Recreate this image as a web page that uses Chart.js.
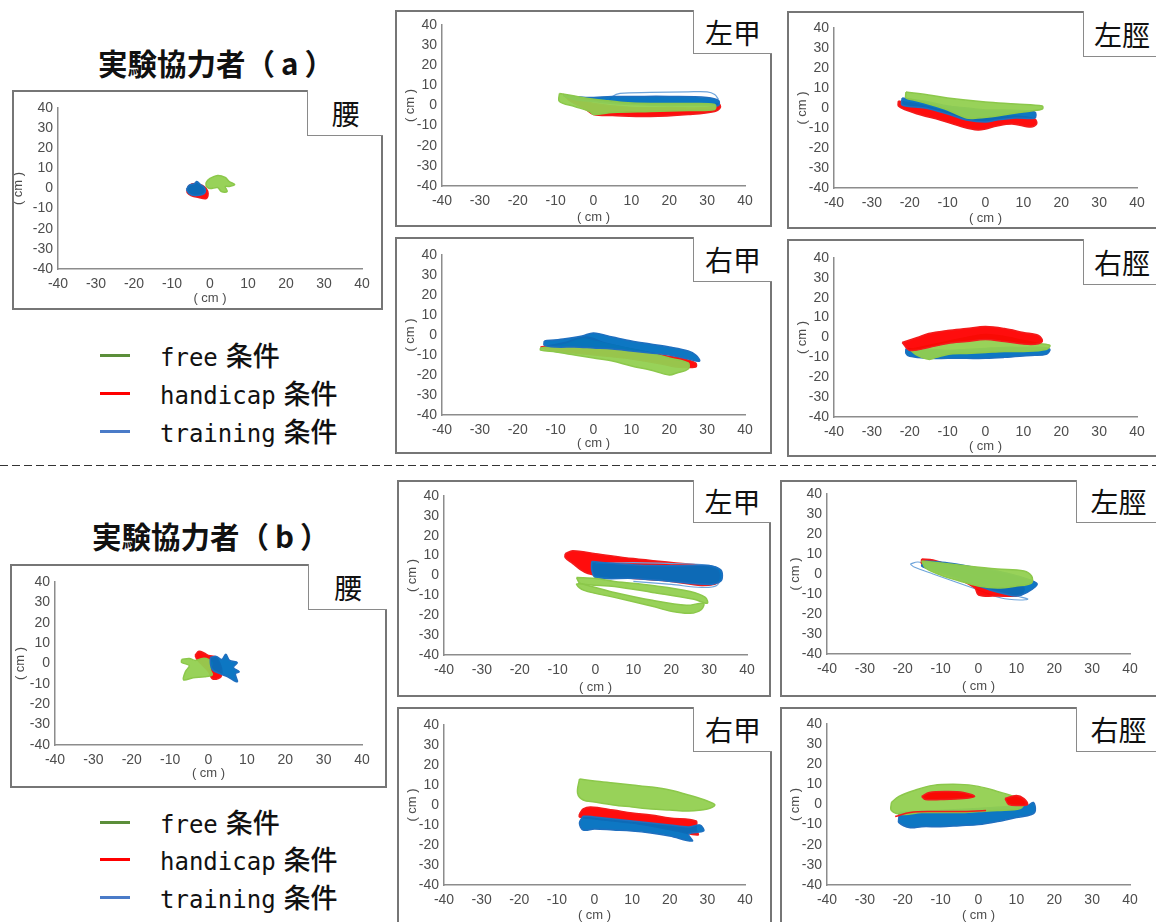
<!DOCTYPE html>
<html lang="ja">
<head>
<meta charset="UTF-8">
<title>実験協力者 軌跡</title>
<script src="https://cdn.jsdelivr.net/npm/chart.js"></script>
<style>
  body { margin:0; width:1156px; height:922px; position:relative; overflow:hidden; background:#fff; font-family:'Noto Sans CJK JP', sans-serif; }
  canvas { position:absolute; z-index:1; }
  .frame { position:absolute; box-sizing:border-box; border:2px solid #767676; z-index:2; pointer-events:none; }
  .part { position:absolute; box-sizing:border-box; border-left:1.5px solid #8a8a8a; border-bottom:1.5px solid #8a8a8a; background:#fff; z-index:3;
          font-size:28px; color:#111; display:flex; align-items:center; justify-content:center; line-height:1; }
  .title { position:absolute; font-weight:700; font-size:29.5px; color:#111; line-height:40px; white-space:nowrap; }
  .title .p { margin:0 6px; }
  .divider { position:absolute; left:0; top:465px; width:1156px; height:1px;
             background:repeating-linear-gradient(to right, #333 0 8px, transparent 8px 12px); }
  .key { position:absolute; left:100px; width:30px; height:3px; }
  .keytext { position:absolute; left:160px; height:36px; line-height:36px; white-space:nowrap; color:#111; }
  .keytext .en { font-family:'DejaVu Sans Mono', monospace; font-size:24px; }
  .keytext .ja { font-family:'Noto Sans CJK JP', sans-serif; font-size:27px; font-weight:500; margin-left:8px; }
</style>
</head>
<body>

<div class="title" style="left:98px; top:42px">実験協力者（<span class="p">a</span>）</div>
<div class="title" style="left:92px; top:515px">実験協力者（<span class="p">b</span>）</div>
<div class="divider"></div>

<script>
// axis ticks (cm)
const axisTicks = [-40, -30, -20, -10, 0, 10, 20, 30, 40];
const conditions = ['free', 'handicap', 'training'];

// ---- 実験協力者 (a) ----
// 腰
const aWaistFree = [[-1,1],[-1,3],[0,5],[2,6.5],[4,5.5],[5,3.5],[6.5,2],[5,1],[4,1],[4.5,-1.5],[3,-1.5],[2,0.5],[0,0]];
const aWaistHandicap = [[-6,-0.5],[-5.5,1.5],[-4,2.5],[-2,1.5],[-1,0],[-0.5,-2.5],[-1,-5],[-3,-4.5],[-5,-3.5],[-6,-2]];
const aWaistTraining = [[-6.2,-0.5],[-5.5,1.5],[-4,2.5],[-3.5,3.5],[-2.5,2],[-1.5,0.5],[-1.2,-1.5],[-2,-3],[-4,-3.5],[-5.5,-2.5]];
// 左甲
const aLeftFootFree = [[-9,6],[-3,4],[3,2.5],[8,1.5],[15,1],[25,1],[32,0.5],[32,-2],[25,-2.5],[15,-3],[5,-3.5],[0,-4.5],[-1,-3],[-5,-0.5],[-9,2]];
const aLeftFootHandicap = [[-8,5.5],[-3,3],[0,1],[10,-1],[20,-1],[30,-1],[33,1],[33.5,-1],[32,-3],[25,-4.5],[15,-5.5],[5,-5],[0,-4.5],[-2,-2],[-6,2]];
const aLeftFootTraining = [[-8,5],[-2,4],[5,4.5],[10,4.5],[20,4.5],[30,4],[33,2.5],[33,0],[30,0],[20,0],[10,0.5],[5,1],[0,2],[-5,3]];
const aLeftFootTrainingLoop = [[4,2],[5,4.5],[7,6],[15,6.5],[25,6.8],[30,6.8],[32,5.5],[33,3]];
// 左脛
const aLeftShinFree = [[-21,8],[-15,6.5],[-10,5],[0,3],[8,2],[15,1],[15,-0.5],[12,-1.5],[8,-2.5],[3,-4],[-2,-5],[-5,-5],[-10,-1],[-15,2],[-19,4],[-21,5]];
const aLeftShinHandicap = [[-23,3.5],[-18,2],[-14,0],[-8,-3],[-3,-5],[3,-4.5],[8,-4],[13,-5.5],[13.5,-8],[12,-9.5],[7,-8],[3,-9],[0,-10.5],[-2,-11],[-6,-9.5],[-12,-6],[-17,-3.5],[-21,-1],[-23,1]];
const aLeftShinTraining = [[-22,5],[-15,3],[-10,1],[-5,0],[0,-1],[5,-1],[13,-2],[13,-5],[8,-5],[3,-6],[0,-7],[-5,-6],[-10,-3],[-16,0],[-22,1.5]];
// 右甲
const aRightFootFree = [[-14,-6.5],[-8,-5],[-3,-2],[0,-3],[5,-5],[10,-7],[15,-9],[20,-11.5],[25,-14],[25,-17],[22,-19],[20,-20],[15,-17.5],[10,-15.5],[5,-13],[0,-11.5],[-5,-10],[-10,-8.5],[-14,-7.5]];
const aRightFootHandicap = [[-14,-6],[-8,-4],[-2,-1],[3,-4],[10,-7],[18,-10],[24,-12],[27,-14],[27,-16],[22,-16],[18,-14.5],[10,-12],[3,-10.5],[-5,-9],[-12,-7.5]];
const aRightFootTraining = [[-13,-3],[-8,-2],[-3,-0.5],[0,1],[5,-1],[10,-3],[15,-4.5],[20,-6],[25,-8],[27,-10],[28,-13],[25,-12],[20,-10],[15,-9],[10,-8],[5,-7],[0,-6.5],[-5,-6],[-10,-6],[-13,-5]];
// 右脛
const aRightShinFree = [[-20,-6],[-15,-4],[-10,-2],[-5,0],[0,1.5],[5,0.5],[10,-1.5],[14,-3],[17,-4],[16,-6],[10,-7],[5,-7],[0,-7.5],[-5,-8],[-10,-8.5],[-13,-10],[-15,-11],[-18,-9]];
const aRightShinHandicap = [[-22,-2.5],[-18,0],[-15,2],[-10,3.5],[-5,4.5],[0,5.5],[5,4.5],[10,2.5],[14,1],[15,-2],[12,-3.5],[5,-2],[0,-1],[-5,-2],[-10,-3],[-15,-5],[-20,-6.5]];
const aRightShinTraining = [[-21,-5.5],[-15,-6],[-10,-6.5],[-5,-6],[0,-5.5],[5,-5],[10,-5],[15,-5],[17,-6],[16,-8.5],[12,-9],[5,-10],[0,-10.5],[-5,-10.5],[-10,-10.5],[-15,-10.5],[-20,-9.5],[-21,-8]];

// ---- 実験協力者 (b) ----
// 腰
const bWaistFree = [[-7,2],[-5,2.5],[-3.5,1.5],[-1.5,2.5],[0,2],[1,0],[0.5,-3],[1,-5.5],[-1,-6.5],[-4,-7],[-6.5,-8],[-6,-4],[-5,-1],[-7,0.5]];
const bWaistHandicap = [[-3.5,4],[-2.5,6],[-1,5],[0,4],[2,3],[3,0],[3.5,-4],[3,-7],[1,-7.5],[0,-4],[-2,0],[-3,2]];
const bWaistTraining = [[0.5,3],[2,3.5],[3.5,2],[4.5,4.5],[5.5,1.5],[7.5,0.5],[6.5,-2],[8,-4],[7,-5],[7.5,-9],[5,-6.5],[3,-5],[1,-3],[0.5,0]];
// 左甲
const bLeftFootFreeUpper = [[-5,-1],[0,-1.5],[5,-3],[15,-5],[25,-8],[29,-11],[29.5,-14],[26,-12],[15,-8.5],[5,-5.5],[-4,-4]];
const bLeftFootFreeLower = [[-4,-4],[0,-6],[5,-8.5],[15,-12.5],[24,-15],[28.5,-14],[28,-17],[25,-19],[20,-18],[15,-15.5],[5,-11],[-3,-7.5],[-5,-4.5]];
const bLeftFootHandicap = [[-8,11],[-6,12.5],[0,11],[10,8.5],[20,6.5],[28,5],[32,3],[33,0],[32,-4],[28,-5],[20,-3],[10,-1.5],[2,-0.5],[-2,1],[-4,3],[-6,6],[-8,9]];
const bLeftFootTraining = [[-1,7],[5,6],[15,5],[25,5],[30,5],[33,3],[33.5,0],[33,-3],[30,-4.5],[20,-3],[10,-1.5],[0,-1],[-1,3]];
const bLeftFootTrainingLoop = [[0,6],[10,6.5],[20,6],[28,5.5],[32,4],[33,0],[32,-5],[28,-6],[20,-4.5],[10,-3]];
// 左脛
const bLeftShinFree = [[-15,6.5],[-10,5.5],[-3,4],[5,2.5],[12,1.5],[14,-1],[14,-4.5],[10,-6],[5,-7],[0,-6],[-5,-3.5],[-10,-0.5],[-14,3]];
const bLeftShinHandicap = [[-15,7.5],[-12,7],[-6,3],[2,-3],[9,-5],[12,-7],[11,-10.5],[5,-11],[0,-10.5],[-1,-7],[-6,-2],[-12,2],[-15,5]];
const bLeftShinTraining = [[-14,6.5],[-8,5.5],[0,3],[6,1],[12,-2],[15.5,-5],[13,-9],[10,-11],[7,-10],[3,-8],[0,-6],[-6,-2],[-12,2],[-15,4]];
const bLeftShinTrainingLoop = [[-18,5],[-16,6],[-12,4],[-5,0],[0,-4],[5,-8],[10,-11],[13,-12.5],[11,-13],[6,-12],[0,-8],[-6,-4],[-12,0],[-17,3.5],[-18,5]];
// 右甲
const bRightFootFree = [[-4,13],[0,12],[5,11],[10,10],[15,9],[20,7.5],[25,5],[30,2],[32,0],[30,-2],[25,-3],[20,-2.5],[15,-2],[10,-1],[5,0],[0,1.5],[-3,2.5],[-4.5,6]];
const bRightFootHandicap = [[-4,-4.5],[-3,-2],[-1,-1],[5,-2.5],[10,-4],[15,-5],[20,-6.5],[27,-8],[27,-12],[27.5,-15],[22,-13],[15,-10.5],[10,-9],[5,-8],[0,-7],[-4,-6]];
const bRightFootTraining = [[-3,-5.5],[0,-6],[5,-7],[10,-8],[15,-9],[20,-10],[25,-11],[28,-10],[29,-13],[25,-14.5],[26,-18],[20,-15.5],[15,-14],[10,-13],[5,-12.5],[0,-12],[-3,-12.5],[-4,-9]];
// 右脛
const bRightShinFree = [[-23,1],[-21,4],[-17,7],[-12,9.5],[-5,10],[0,9],[5,6.5],[10,3.5],[12,1],[11,-2],[5,-3],[0,-3.5],[-5,-4],[-10,-4],[-15,-4],[-20,-5],[-23,-3]];
const bRightShinHandicap = [[-15,4],[-13,6],[-8,6.5],[-4,6],[-1,4],[-4,3],[-10,2.5],[-14,2.5]];
const bRightShinHandicapTip = [[7,3],[10,4.5],[12,3],[13,0],[11,-0.5],[8,0]];
const bRightShinHandicapLine = [[-22,-6],[-18,-4],[-12,-3.5],[-5,-3.5],[2,-3]];
const bRightShinTraining = [[-21,-4],[-15,-3.5],[-10,-3],[0,-2],[8,-1],[13,-0.5],[14.5,1],[15,-3],[14,-5],[10,-6.5],[5,-8.5],[0,-10],[-5,-10.5],[-10,-11],[-15,-11],[-18,-11.5],[-21,-9],[-21,-6]];

// styles
const looks = {
  free:        { line:'#8cc84b', fillColor:'rgba(146,208,80,0.95)', width:1.5, fill:true },
  handicap:    { line:'#f21c1c', fillColor:'rgba(255,0,0,0.95)',    width:1.5, fill:true },
  training:    { line:'#1f6fbf', fillColor:'rgba(0,112,192,0.95)',  width:1.5, fill:true },
  handicapLine:{ line:'#f21c1c', width:1.5, fill:false },
  trainingThin:{ line:'#6fa5db', width:1.2, fill:false }
};
const legendColors = { free:'#5b8e3a', handicap:'#ff0000', training:'#4a7bc8' };

// box = frame [L,T,R,B], area = plot area [L,T,R,B], part = [left, bottom] of the name box
// layers are listed bottom first
const panels = [
  { name:'腰',  box:[12,90,383,310],   area:[58,108,362,269],   part:[307,136], ytx:6,  xty:12,
    layers:[[aWaistHandicap,'handicap'],[aWaistTraining,'training'],[aWaistFree,'free']] },
  { name:'左甲', box:[395,10,772,227],  area:[442,25,745,186],   part:[693,54],  ytx:15, xty:10,
    layers:[[aLeftFootTrainingLoop,'trainingThin'],[aLeftFootHandicap,'handicap'],[aLeftFootTraining,'training'],[aLeftFootFree,'free']] },
  { name:'左脛', box:[787,11,1160,229], area:[834,28,1137,188],  part:[1083,57], ytx:15, xty:11,
    layers:[[aLeftShinHandicap,'handicap'],[aLeftShinTraining,'training'],[aLeftShinFree,'free']] },
  { name:'右甲', box:[395,237,772,454], area:[442,255,745,415],  part:[693,282], ytx:15, xty:11,
    layers:[[aRightFootHandicap,'handicap'],[aRightFootFree,'free'],[aRightFootTraining,'training']] },
  { name:'右脛', box:[787,239,1160,457],area:[834,258,1137,417], part:[1083,285],ytx:15, xty:11,
    layers:[[aRightShinTraining,'training'],[aRightShinFree,'free'],[aRightShinHandicap,'handicap']] },
  { name:'腰',  box:[10,564,387,788],  area:[55,582,362,745],   part:[308,610], ytx:10, xty:15,
    layers:[[bWaistHandicap,'handicap'],[bWaistFree,'free'],[bWaistTraining,'training']] },
  { name:'左甲', box:[397,480,771,697], area:[444,496,747,655],  part:[693,523], ytx:15, xty:10,
    layers:[[bLeftFootHandicap,'handicap'],[bLeftFootTrainingLoop,'trainingThin'],[bLeftFootTraining,'training'],[bLeftFootFreeUpper,'free'],[bLeftFootFreeLower,'free']] },
  { name:'左脛', box:[780,480,1160,697],area:[827,494,1130,654], part:[1076,523],ytx:15, xty:11,
    layers:[[bLeftShinTrainingLoop,'trainingThin'],[bLeftShinHandicap,'handicap'],[bLeftShinTraining,'training'],[bLeftShinFree,'free']] },
  { name:'右甲', box:[397,707,772,926], area:[444,725,745,885],  part:[693,752], ytx:15, xty:11,
    layers:[[bRightFootHandicap,'handicap'],[bRightFootTraining,'training'],[bRightFootFree,'free']] },
  { name:'右脛', box:[780,707,1160,926],area:[827,724,1130,885], part:[1076,752],ytx:15, xty:11,
    layers:[[bRightShinTraining,'training'],[bRightShinFree,'free'],[bRightShinHandicap,'handicap'],[bRightShinHandicapTip,'handicap'],[bRightShinHandicapLine,'handicapLine']] }
];

const tickFont = { family:'Liberation Sans', size:14 };
const titleFont = { family:'Liberation Sans', size:13 };
const tickColor = '#4d4d4d';
const halfLine = 13 * 1.2 / 2;

function makeDataset(pts, key) {
  const look = looks[key];
  const path = look.fill ? pts.concat([pts[0]]) : pts;
  return {
    data: path.map(p => ({ x: p[0], y: p[1] })),
    borderColor: look.line,
    backgroundColor: look.fillColor || look.line,
    borderWidth: look.width,
    fill: look.fill ? 'shape' : false,
    pointRadius: 0,
    tension: 0.35
  };
}

function addDiv(cls, l, t, w, h, text) {
  const d = document.createElement('div');
  d.className = cls;
  d.style.left = l + 'px'; d.style.top = t + 'px';
  d.style.width = w + 'px'; d.style.height = h + 'px';
  if (text) d.textContent = text;
  document.body.appendChild(d);
  return d;
}

panels.forEach(p => {
  const [L, T, R, B] = p.box;
  const [aL, aT, aR, aB] = p.area;
  const cv = document.createElement('canvas');
  cv.width = R - L; cv.height = B - T;
  cv.style.left = L + 'px'; cv.style.top = T + 'px';
  document.body.appendChild(cv);
  addDiv('frame', L, T, R - L, B - T);
  addDiv('part', p.part[0], T, R - p.part[0], p.part[1] - T, p.name);

  const yWidth = aL - L, xHeight = B - aB;
  // Chart.js paints dataset 0 last (on top), so hand the layers over top first
  const datasets = p.layers.map(([pts, key]) => makeDataset(pts, key)).reverse();
  new Chart(cv, {
    type: 'line',
    data: { datasets },
    options: {
      responsive: false,
      animation: false,
      layout: { padding: { top: aT - T, right: R - aR, left: 0, bottom: 0 } },
      plugins: { legend: { display: false }, tooltip: { enabled: false } },
      scales: {
        x: {
          type: 'linear', min: -40, max: 40,
          afterBuildTicks: s => { s.ticks = axisTicks.map(v => ({ value: v })); },
          afterFit: s => { s.height = xHeight; },
          grid: { display: false, drawTicks: false },
          border: { display: true, color: '#8c8c8c', width: 1.5 },
          ticks: { font: tickFont, color: tickColor, padding: 7, autoSkip: false, maxRotation: 0 },
          title: { display: true, text: '( cm )', font: titleFont, color: tickColor,
                   padding: { top: 0, bottom: p.xty - halfLine } }
        },
        y: {
          type: 'linear', min: -40, max: 40,
          afterBuildTicks: s => { s.ticks = axisTicks.map(v => ({ value: v })); },
          afterFit: s => { s.width = yWidth; },
          grid: { display: false, drawTicks: false },
          border: { display: true, color: '#8c8c8c', width: 1.5 },
          ticks: { font: tickFont, color: tickColor, padding: 5, autoSkip: false },
          title: { display: true, text: '( cm )', font: titleFont, color: tickColor,
                   padding: { top: p.ytx - halfLine, bottom: 0 } }
        }
      }
    }
  });
});

// legends for both participants
const legendRows = [[355, 393, 431], [822, 859, 897]];
legendRows.forEach(rows => {
  rows.forEach((y, i) => {
    const key = conditions[i];
    const line = addDiv('key', 100, y - 1.5, 30, 3);
    line.style.background = legendColors[key];
    const t = addDiv('keytext', 160, y - 18, 260, 36);
    t.innerHTML = '<span class="en">' + key + '</span><span class="ja">条件</span>';
  });
});
</script>
</body>
</html>
